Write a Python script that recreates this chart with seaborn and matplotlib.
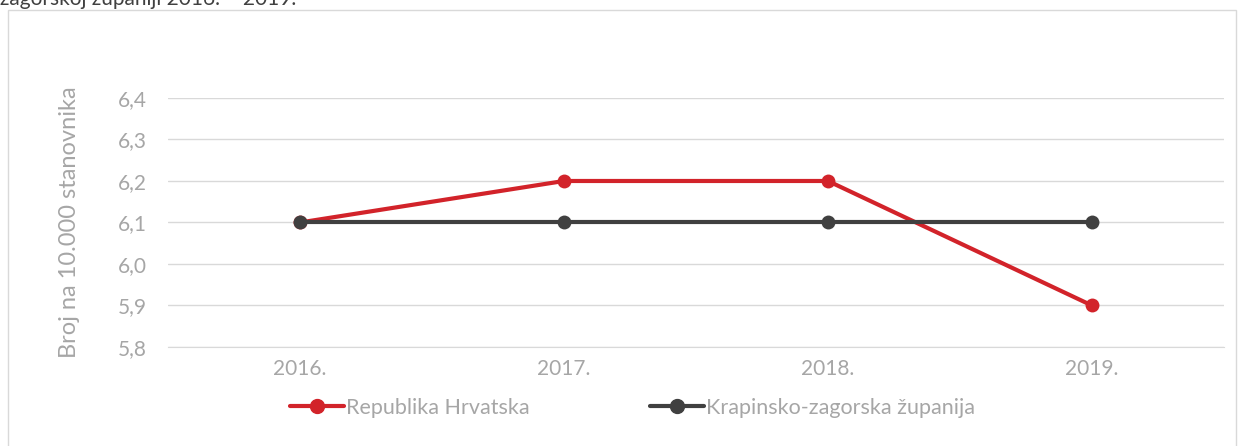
import numpy as np
import matplotlib.pyplot as plt
import pandas as pd
import seaborn as sns
from matplotlib.patches import Rectangle

# data
years = ['2016.', '2017.', '2018.', '2019.']
hrvatska = [6.1, 6.2, 6.2, 5.9]
kzz = [6.1, 6.1, 6.1, 6.1]
series_names = ['Republika Hrvatska', 'Krapinsko-zagorska županija']
yticks = [5.8, 5.9, 6.0, 6.1, 6.2, 6.3, 6.4]

df = pd.DataFrame({
    'godina': years * 2,
    'vrijednost': hrvatska + kzz,
    'serija': [series_names[0]] * 4 + [series_names[1]] * 4,
})

sns.set_style('white')
plt.rcParams['font.family'] = ['Lato', 'DejaVu Sans']

fig = plt.figure(figsize=(12.46, 4.46), dpi=100)
ax = fig.add_axes([0.1348, 0.222, 0.8475, 0.5583])

# outer chart border
fig.patches.append(Rectangle((8 / 1246, -0.01), 1228 / 1246, 1 - 10 / 446 + 0.01,
                             transform=fig.transFigure, fill=False,
                             edgecolor='#d9d9d9', linewidth=1))

# title (cut off at the top, like in the source)
fig.text(0.0, 1 - 5 / 446, 'zagorskoj županiji 2016. – 2019.', fontsize=15,
         color='#404040', va='baseline', ha='left')

grey = '#a6a6a6'
colors = ['#d2232a', '#404040']
sns.lineplot(data=df, x='godina', y='vrijednost', hue='serija', palette=colors,
             marker='o', markersize=10, markeredgewidth=0, linewidth=3,
             ax=ax, legend=False)

ax.set_xlim(-0.5, 3.5)
ax.set_ylim(5.8, 6.4)
ax.set_yticks(yticks)
ax.set_yticklabels([f'{v:.1f}'.replace('.', ',') for v in yticks])
ax.yaxis.grid(True, color='#d9d9d9', linewidth=1)
for s in ['top', 'right', 'left']:
    ax.spines[s].set_visible(False)
ax.spines['bottom'].set_color('#d9d9d9')
ax.tick_params(axis='both', colors=grey, labelsize=15, length=0)
ax.tick_params(axis='y', pad=15)
ax.tick_params(axis='x', pad=9)
ax.set_xlabel('')
ax.set_ylabel('')
fig.text(70 / 1246, 1 - 222 / 446, 'Broj na 10.000 stanovnika', rotation=90,
         color=grey, fontsize=17, ha='center', va='center')

handles = [plt.Line2D([], [], color=c, marker='o', markersize=10, linewidth=3)
           for c in colors]
fig.legend(handles, series_names, loc='center left', bbox_to_anchor=(290 / 1246, 1 - 408 / 446),
           ncol=2, frameon=False, fontsize=15.5, labelcolor=grey,
           handlelength=2.5, handletextpad=0.1, columnspacing=5.6, borderaxespad=0,
           borderpad=0)

plt.savefig('out.png', dpi=100)
plt.close()
